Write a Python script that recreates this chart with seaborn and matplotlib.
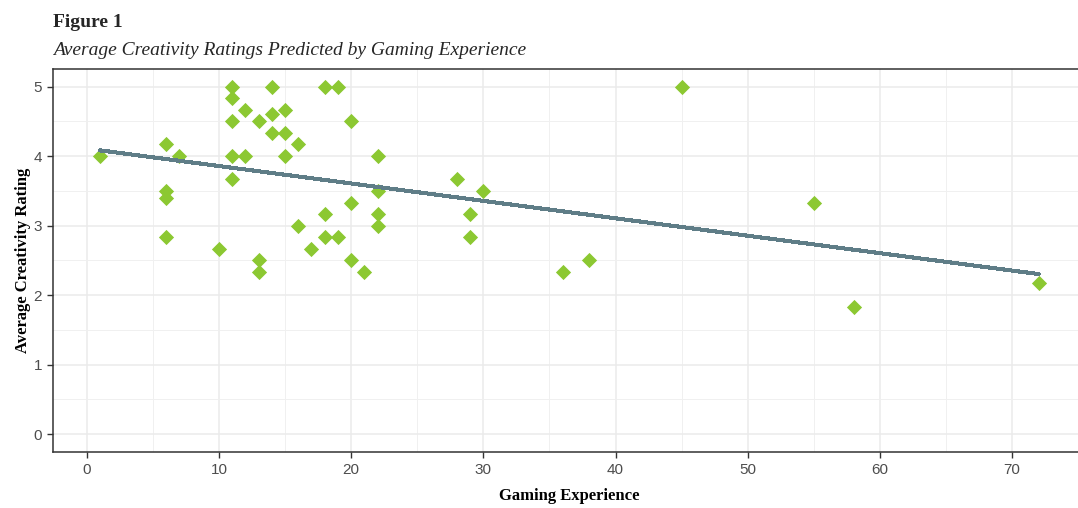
import numpy as np
import pandas as pd
import matplotlib
matplotlib.use("Agg")
import matplotlib.pyplot as plt
import seaborn as sns
from matplotlib.ticker import MultipleLocator

# data
gaming_experience = [1, 6, 6, 6, 6, 7, 10, 11, 11, 11, 11, 11, 12, 12, 13, 13, 13,
                     14, 14, 14, 15, 15, 15, 16, 16, 17, 18, 18, 18, 19, 19,
                     20, 20, 20, 21, 22, 22, 22, 22, 28, 29, 29, 30, 36, 38,
                     45, 55, 58, 72]
creativity_rating = [4.00, 4.17, 3.50, 3.40, 2.83, 4.00, 2.67, 5.00, 4.83, 4.50, 4.00, 3.67,
                     4.67, 4.00, 4.50, 2.50, 2.33, 5.00, 4.60, 4.33, 4.67, 4.33, 4.00,
                     4.17, 3.00, 2.67, 5.00, 3.17, 2.83, 5.00, 2.83, 4.50, 3.33, 2.50,
                     2.33, 4.00, 3.50, 3.17, 3.00, 3.67, 3.17, 2.83, 3.50, 2.33, 2.50,
                     5.00, 3.33, 1.83, 2.17]

df = pd.DataFrame({"Gaming Experience": gaming_experience,
                   "Average Creativity Rating": creativity_rating})

sns.set_style("white")

fig = plt.figure(figsize=(10.78, 5.08), dpi=100)
ax = fig.add_axes([0.0492, 0.1112, 0.9578, 0.7524])

sns.regplot(
    data=df,
    x="Gaming Experience",
    y="Average Creativity Rating",
    ax=ax,
    ci=None,
    marker="D",
    scatter_kws={"s": 60, "color": "#8cc832", "linewidths": 0, "alpha": 1},
    line_kws={"color": "#5f7d87", "linewidth": 2.2, "antialiased": False},
)

ax.set_xlim(-2.55, 75.55)
ax.set_ylim(-0.25, 5.25)
ax.xaxis.set_major_locator(MultipleLocator(10))
ax.xaxis.set_minor_locator(MultipleLocator(5))
ax.yaxis.set_major_locator(MultipleLocator(1))
ax.yaxis.set_minor_locator(MultipleLocator(0.5))
ax.set_axisbelow(True)
ax.grid(which="major", color="#ebebeb", linewidth=1.1)
ax.grid(which="minor", color="#f0f0f0", linewidth=0.7)

for side in ["left", "bottom", "top", "right"]:
    ax.spines[side].set_color("#333333")
    ax.spines[side].set_linewidth(1.1)

ax.tick_params(which="major", direction="out", length=4, width=1, color="#333333",
               labelsize=11, labelcolor="#4d4d4d", pad=4, bottom=True, left=True)
ax.tick_params(which="minor", length=0)
for lbl in ax.get_xticklabels() + ax.get_yticklabels():
    lbl.set_family("Liberation Sans")

ax.set_xlabel("Gaming Experience", family="Liberation Serif", fontweight="bold",
              fontsize=12, color="black", labelpad=8)
ax.set_ylabel("Average Creativity Rating", family="Liberation Serif", fontweight="bold",
              fontsize=12, color="black", labelpad=2)

fig.text(0.0492, 0.947, "Figure 1", family="Liberation Serif", fontweight="bold",
         fontsize=14, va="baseline", ha="left")
fig.text(0.0492, 0.892, "Average Creativity Ratings Predicted by Gaming Experience",
         family="Liberation Serif", style="italic", fontsize=14, va="baseline", ha="left")

plt.savefig("out.png", dpi=100)
plt.close()
